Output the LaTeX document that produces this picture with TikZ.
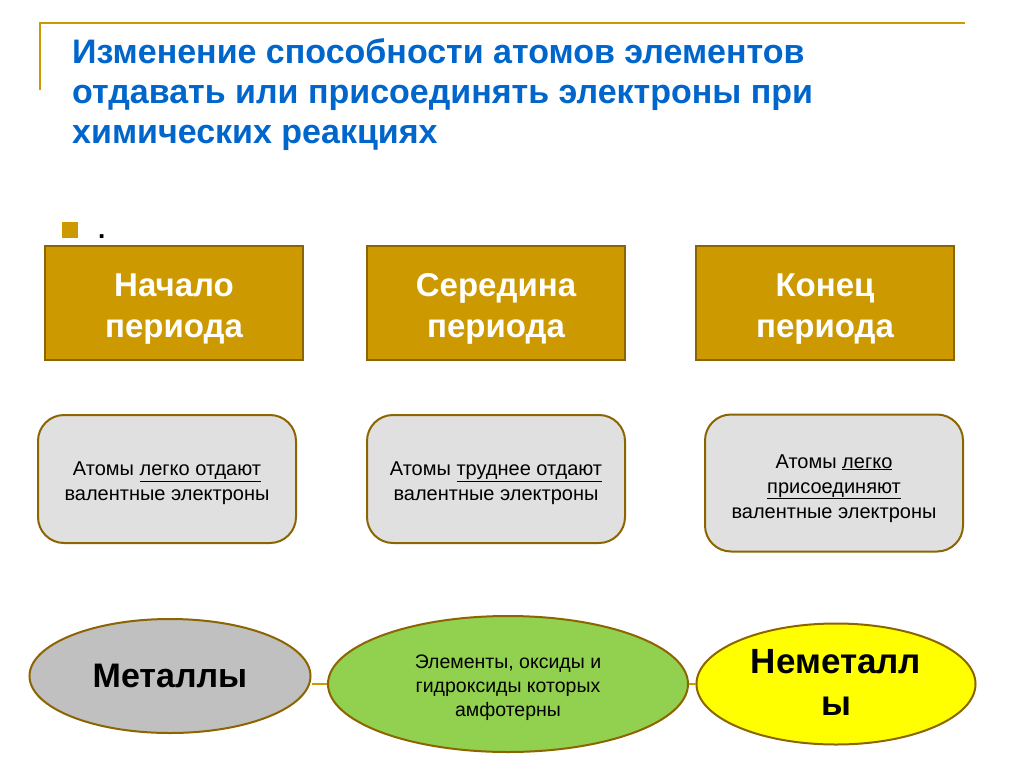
\documentclass[tikz,border=0pt]{standalone}
\usepackage{fontspec}
\setmainfont{Liberation Sans}
\usetikzlibrary{shapes.geometric}
\definecolor{gold}{RGB}{204,153,0}
\definecolor{golddark}{RGB}{140,100,0}
\definecolor{titleblue}{RGB}{0,102,204}
\definecolor{boxgray}{RGB}{224,224,224}
\definecolor{metgray}{RGB}{192,192,192}
\definecolor{amfgreen}{RGB}{146,208,80}
\definecolor{nmyellow}{RGB}{255,255,0}
\newcommand{\nudge}[2]{\raisebox{#1}[\height][\depth]{\begin{tabular}{@{}c@{}}#2\end{tabular}}}
\tikzset{
  titleline/.style={anchor=base west, inner sep=0pt, text=titleblue, font=\fontsize{34}{40}\selectfont\bfseries},
  periodbox/.style={draw=golddark, line width=2pt, fill=gold, minimum width=258pt, minimum height=114pt, text=white, font=\fontsize{33}{41}\selectfont\bfseries},
  atombox/.style={draw=golddark, line width=2pt, fill=boxgray, rounded corners=26pt, minimum width=258pt, font=\fontsize{20}{25}\selectfont},
  oval/.style={ellipse, draw=golddark, line width=2pt, inner sep=0pt},
  link/.style={draw=gold, line width=2pt}
}
\begin{document}
\begin{tikzpicture}[x=1pt,y=-1pt]
\useasboundingbox (0,0) rectangle (1024,767);
\fill[white] (0,0) rectangle (1024,767);
\coordinate (tl) at (40,23);
\coordinate (tr) at (965,23);
\coordinate (tb) at (40,90);
\draw[gold, line width=2pt] (tb) -- (tl) -- (tr);
\node[titleline] (t1) at (72,64) {Изменение способности атомов элементов};
\node[titleline] (t2) at (72,104) {отдавать или присоединять электроны при};
\node[titleline] (t3) at (72,144) {химических реакциях};
\node[fill=gold, minimum size=16pt, inner sep=0pt] (bul) at (70,230) {};
\node[inner sep=0pt, anchor=base west, font=\fontsize{26}{30}\selectfont\bfseries] (dot) at (98,239) {.};
\node[periodbox] (p1) at (174,303) {\nudge{-6pt}{Начало\\периода}};
\node[periodbox] (p2) at (496,303) {\nudge{-6pt}{Середина\\периода}};
\node[periodbox] (p3) at (825,303) {\nudge{-6pt}{Конец\\периода}};
\node[atombox, minimum height=128pt] (a1) at (167,479) {\nudge{-4pt}{Атомы \underline{легко отдают}\\валентные электроны}};
\node[atombox, minimum height=128pt] (a2) at (496,479) {\nudge{-4pt}{Атомы \underline{труднее отдают}\\валентные электроны}};
\node[atombox, minimum height=137pt] (a3) at (834,483) {\nudge{-5pt}{Атомы \underline{легко}\\\underline{присоединяют}\\валентные электроны}};
\node[oval, fill=metgray, minimum width=281pt, minimum height=114pt, font=\fontsize{34}{40}\selectfont\bfseries] (met) at (170,676) {Металлы};
\node[oval, fill=amfgreen, minimum width=360pt, minimum height=136pt, font=\fontsize{19.5}{24}\selectfont] (amf) at (508,684) {\nudge{-4pt}{Элементы, оксиды и\\гидроксиды которых\\амфотерны}};
\node[oval, fill=nmyellow, minimum width=279pt, minimum height=121pt, font=\fontsize{35}{42}\selectfont\bfseries] (nm) at (836,684) {\nudge{-2pt}{Неметалл\\ы}};
\draw[link] (met.east |- amf.center) -- (amf.west);
\draw[link] (amf.east) -- (nm.west);
\end{tikzpicture}
\end{document}
